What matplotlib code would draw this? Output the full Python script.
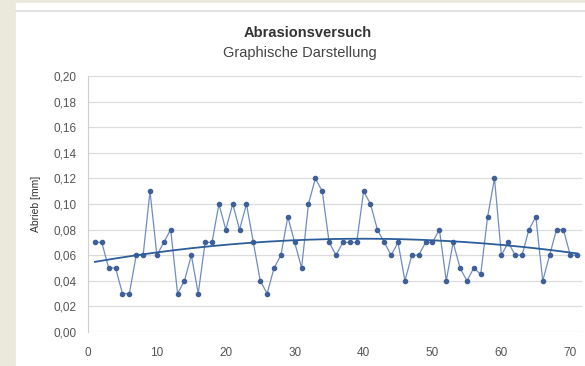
import numpy as np
import matplotlib.pyplot as plt
from matplotlib.ticker import FuncFormatter

# Messwerte Abrieb je Probe
proben = np.arange(1, 72)
abrieb = [0.07, 0.07, 0.05, 0.05, 0.03, 0.03, 0.06, 0.06, 0.11, 0.06,
          0.07, 0.08, 0.03, 0.04, 0.06, 0.03, 0.07, 0.07, 0.10, 0.08,
          0.10, 0.08, 0.10, 0.07, 0.04, 0.03, 0.05, 0.06, 0.09, 0.07,
          0.05, 0.10, 0.12, 0.11, 0.07, 0.06, 0.07, 0.07, 0.07, 0.11,
          0.10, 0.08, 0.07, 0.06, 0.07, 0.04, 0.06, 0.06, 0.07, 0.07,
          0.08, 0.04, 0.07, 0.05, 0.04, 0.05, 0.045, 0.09, 0.12, 0.06,
          0.07, 0.06, 0.06, 0.08, 0.09, 0.04, 0.06, 0.08, 0.08, 0.06,
          0.06]

titel = "Abrasionsversuch"
untertitel = "Graphische Darstellung"
y_label = "Abrieb [mm]"

plt.rcParams["font.family"] = ["Liberation Sans", "DejaVu Sans"]

# Polynomischer Trend 2. Ordnung
koeff = np.polyfit(proben, abrieb, 2)
xt = np.linspace(1, 71, 200)
yt = np.polyval(koeff, xt)

fig = plt.figure(figsize=(5.85, 3.66), dpi=100)
fig.patch.set_facecolor("#ebe8dc")

# weisse Diagrammflaeche
fig.patches.append(plt.Rectangle((16 / 585, 0), 1 - 16 / 585, 1 - 3 / 366,
                                 transform=fig.transFigure, color="white",
                                 zorder=-5))
fig.lines.append(plt.Line2D([16 / 585, 1], [1 - 11 / 366, 1 - 11 / 366],
                            transform=fig.transFigure, color="#e2e2e2", lw=1.5,
                            zorder=-4))

ax = fig.add_axes([88 / 585, 34 / 366, 494 / 585, 256 / 366])
ax.set_zorder(2)
ax.set_facecolor("white")

ax.plot(proben, abrieb, color="#6f8cc4", lw=0.9, marker="o", ms=3.0,
        mfc="#3f5f99", mec="#3f5f99", zorder=3)
ax.plot(xt, yt, color="#2c5d9a", lw=1.3, zorder=4)

ax.set_xlim(0, 71.7)
ax.set_ylim(0, 0.2)
ax.set_xticks(range(0, 71, 10))
ax.set_yticks(np.arange(0, 0.201, 0.02))
ax.yaxis.set_major_formatter(FuncFormatter(lambda v, p: f"{v:.2f}".replace(".", ",")))
ax.grid(axis="y", color="#dcdcdc", lw=0.9)
ax.set_axisbelow(True)

for s in ["top", "right", "bottom"]:
    ax.spines[s].set_visible(False)
ax.spines["left"].set_color("#cfcfcf")
ax.tick_params(length=0, labelsize=8.5, colors="#555555", pad=8)
ax.tick_params(axis="x", pad=11)

ax.set_ylabel(y_label, fontsize=7.5, color="#333333", labelpad=9)

fig.text(308 / 585, 1 - 33 / 366, titel, ha="center", va="center",
         fontsize=10.5, fontweight="bold", color="#333333")
fig.text(300 / 585, 1 - 53 / 366, untertitel, ha="center", va="center",
         fontsize=10.5, color="#444444")

fig.savefig("out.png", dpi=100, facecolor=fig.get_facecolor())
